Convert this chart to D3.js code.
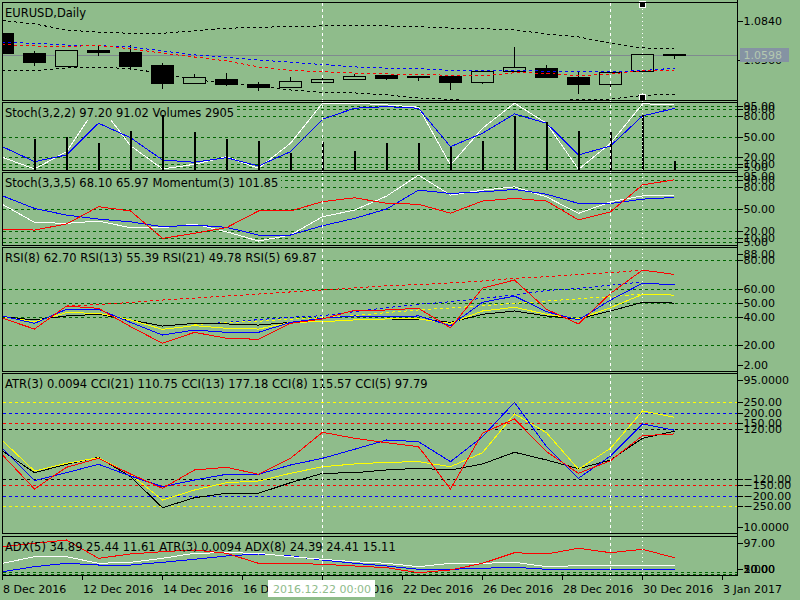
<!DOCTYPE html>
<html lang="en">
<head>
<meta charset="UTF-8">
<title>EURUSD,Daily</title>
<script src="https://cdn.jsdelivr.net/npm/d3@7"></script>
<style>
    body{ margin:0; background:#8fbc8b; }
    svg{ display:block; font-family:"DejaVu Sans", Verdana, sans-serif; font-size:11px; }
    .frame{ fill:none; stroke:#000; }
    .level{ stroke:#006400; stroke-dasharray:3,3; }
    .axisText{ fill:#000; }
    .paneTitle{ font-size:11.5px; }
    .ind{ fill:none; stroke-width:1; }
    .dash{ stroke-dasharray:3,3; }
</style>
</head>
<body>
<script>
// ---------------- data ----------------
// time axis labels, one every 2.5 bars
const tickLabels = ["8 Dec 2016","12 Dec 2016","14 Dec 2016","16 Dec 2016","20 Dec 2016",
                    "22 Dec 2016","26 Dec 2016","28 Dec 2016","30 Dec 2016","3 Jan 2017"];

// EURUSD daily candles
const openP  = [1.0753,1.0612,1.0522,1.0633,1.0619,1.0527,1.0397,1.0428,1.0392,1.0373,1.0409,1.0426,1.0456,1.0447,1.0447,1.0402,1.0482,1.0508,1.0440,1.0390,1.0482,1.0605];
const highP  = [1.0755,1.0626,1.0633,1.0668,1.0668,1.0541,1.0463,1.0472,1.0409,1.0440,1.0432,1.0463,1.0457,1.0449,1.0449,1.0482,1.0654,1.0525,1.0482,1.0477,1.0605,1.0607];
const lowP   = [1.0610,1.0520,1.0515,1.0590,1.0491,1.0357,1.0390,1.0378,1.0343,1.0362,1.0407,1.0419,1.0423,1.0416,1.0350,1.0395,1.0481,1.0437,1.0324,1.0369,1.0481,1.0567];
const closeP = [1.0612,1.0548,1.0633,1.0619,1.0520,1.0400,1.0440,1.0390,1.0373,1.0414,1.0428,1.0449,1.0437,1.0446,1.0402,1.0482,1.0511,1.0444,1.0388,1.0477,1.0605,1.0598];
const lastPrice = 1.0598;
const priceLabels = [1.0840, 1.0560];

// envelope / moving averages on price
const bandUpper = [1.0841,1.0817,1.0774,1.0758,1.0751,1.0751,1.0769,1.0786,1.0793,1.0798,1.0803,1.0803,1.0803,1.0798,1.0788,1.0783,1.0774,1.0746,1.0725,1.0680,1.0647,1.0645];
const bandLower = [1.0484,1.0487,1.0506,1.0511,1.0501,1.0467,1.0421,1.0402,1.0378,1.0350,1.0334,1.0329,1.0315,1.0294,1.0283,1.0272,1.0265,1.0272,1.0283,1.0286,1.0311,1.0320];
const maBlue    = [1.0687,1.0680,1.0668,1.0663,1.0654,1.0626,1.0598,1.0581,1.0562,1.0546,1.0530,1.0513,1.0504,1.0501,1.0488,1.0487,1.0491,1.0482,1.0479,1.0479,1.0487,1.0504];
const maRed     = [1.0672,1.0661,1.0659,1.0663,1.0642,1.0610,1.0583,1.0555,1.0513,1.0488,1.0479,1.0470,1.0463,1.0461,1.0453,1.0449,1.0472,1.0468,1.0449,1.0463,1.0487,1.0491];

// Stoch(3,2,2) + Volumes
const stochA_main   = [19.6,2.5,27.8,98,36.6,2.5,9.4,20.5,3.5,40.1,98.7,98.7,96.2,92.8,8.3,62,98.7,69.4,2,40.1,97.6,97.2];
const stochA_signal = [35.1,13.2,23,69.4,48.3,15.7,12.3,19,6.9,27.8,75.2,91.3,93.7,91.3,35.1,54.8,83,69.4,23,36.2,80.1,91.02];
const volumes       = [9000,9210,9590,8130,11530,16180,11150,9210,8630,5050,8420,5810,7960,8130,6970,8710,15890,13940,11530,11040,16180,2905];
const stochLevels   = [95,90,80,50,20,10,5];

// Stoch(3,3,5) + Momentum(3)
const stochB_main   = [56.5,31.9,30.6,33.7,24.6,24.6,29.6,19.1,6.4,14.6,39.6,48.7,67.8,96.5,69.2,76,80.5,66.8,44.2,60,68.2,68.1];
const stochB_signal = [68.2,51,41.9,36.4,32.7,25.9,28.2,25.1,14.6,14.6,27.3,37.4,50.1,76,71.5,73.7,76.9,70.5,57.8,57.8,63.7,65.97];
const momentum      = [99.42,99.37,99.67,100.52,100.31,98.96,99.21,99.49,100.31,100.31,100.77,100.96,100.69,100.64,100.20,100.80,100.93,100.80,99.87,100.27,101.59,101.85];

// RSI panel
const rsi5  = [39.1,31.5,47.7,46.1,33.2,21.5,29.2,25,24.3,35.5,38.6,44.7,44.9,46.1,32.4,60.2,66,45.4,35.1,56.6,73,69.87];
const rsi8  = [40.7,35.5,45.4,45.4,36.2,27.3,30.8,29.2,29.2,36.2,39.1,40.7,40.2,40.7,33.9,50.3,54.7,43.7,37.9,51.9,63.7,62.7];
const rsi13 = [40.2,36.7,43,42.6,37.9,31.3,33.9,32,31.5,36.2,36.7,37.9,38.6,38.6,35.5,44.2,46.8,41.9,38.6,46.5,55.9,55.39];
const rsi21 = [40.2,37.9,40.7,41.9,37.9,33.6,35.5,35.1,34.3,36.2,36.7,37.9,38.6,38.4,36.2,41.9,44.2,40.7,38.6,44.2,50.3,49.78];
const rsiMaRed    = [null,null,47.7,48.8,50.2,51.9,53.3,54.7,56.1,57.6,59,60.4,62,62.8,63.9,65.3,67.2,68.3,69.9,71.1,73,null];
const rsiMaBlue   = [null,null,null,null,null,null,34.7,36.2,38.1,39.8,40.9,43.7,46.5,48.9,50.7,53.1,55.4,58.6,60.2,62.3,64.6,null];
const rsiMaYellow = [null,null,null,null,null,null,34.7,36,37,38.4,39.5,41,43.1,44.9,46.3,47.9,49.6,51.2,52.8,54.3,56.1,null];
const rsiLevels = [80,60,50,40,20];
const rsiLabels = [88,80,60,50,40,20,2];

// CCI panel
const cci21 = [15.6,-88.7,-48.3,-14.7,-107.9,-257,-208.9,-187.7,-187.7,-136.8,-91.6,-88.7,-75.7,-67.5,-75.7,-46.9,9.4,-27.6,-69.5,-27.6,76.7,110.75];
const cci13 = [65.1,-80.5,-43.5,-16.6,-96.4,-220,-171.9,-136.8,-128.6,-91.6,-59.9,-46.9,-38.7,-35.8,-59.9,7.5,193.5,103.6,-72.4,28.6,207.9,177.18];
const cci8  = [28.6,-127.2,-88.7,-48.3,-104.6,-156,-123.8,-96.4,-96.4,-51.7,-19.5,23.8,68.5,60.3,-35.8,84.4,249.8,36.3,-115.6,-8.4,145.4,115.57];
const cci5  = [-3.6,-167.1,-62.7,-19.5,-95,-163.7,-75.7,-62.7,-96.4,-19.5,105.5,76.7,55.5,36.3,-167.1,100.7,169.5,12.3,-91.6,-31,89.2,97.79];
const cciLevels = [250,200,150,120,-120,-150,-200,-250];
const atrLabels = [95,10];

// ADX panel
const adxRed   = [79,88.1,97,47.7,59.3,65.5,70.1,61.2,34.2,34.2,31.5,27,22.4,8.9,16.2,34.2,62.8,59.3,74.7,62.8,72,49.3];
const adxWhite = [34.2,52,52,34.2,36.9,47.7,61.2,62.8,61.2,52,45,38.5,34.2,25.1,34.2,34.2,36.9,25.1,27.8,27.8,27.8,29.6];
const adxBlue  = [11.6,25.1,34.2,29.6,29.6,36.9,45,53.9,59.3,53.9,43.1,34.2,27,18.1,18.1,20.8,23.5,18.1,16.2,16.2,16.2,16.2];
const adxLevels = [10,5];
const adxLabels = [97,20,10,5];

// marked bars
const crossBar = 10, crossLabel = "2016.12.22 00:00";
const dashedBar = 19, dottedBar = 20;

// ---------------- drawing ----------------
const width = 800, height = 600;
const bg = "#8fbc8b";
const L = 2.5, R = 737.5;

const svg = d3.select("body").append("svg")
    .attr("width", width).attr("height", height)
    .attr("shape-rendering", "crispEdges");
svg.append("rect").attr("width", width).attr("height", height).attr("fill", bg);

// bar index -> x, 32 px per bar
const x = d3.scaleLinear().domain([0, 22.5]).range([2, 722]);
const idx = d3.range(openP.length);

function pane(id, top, bottom){
    svg.append("clipPath").attr("id", "clip-" + id)
        .append("rect").attr("x", L + 0.5).attr("y", top + 0.5)
        .attr("width", R - L - 1).attr("height", bottom - top - 1);
    const g = svg.append("g").attr("clip-path", `url(#clip-${id})`);
    return {id, g, top, bottom};
}

const pPrice = pane("price", 2.5, 100.5);
const pStA   = pane("stA", 102.5, 170.5);
const pStB   = pane("stB", 172.5, 245.5);
const pRsi   = pane("rsi", 247.5, 371.5);
const pCci   = pane("cci", 373.5, 533.5);
const pAdx   = pane("adx", 536.5, 575.5);

const yPrice = d3.scaleLinear().domain([1.0279, 1.0972]).range([100, 2]);
const yStA   = d3.scaleLinear().domain([0, 100]).range([170.7, 102.3]);
const yVol   = d3.scaleLinear().domain([0, 19740]).range([170.7, 102.3]);
const yStB   = d3.scaleLinear().domain([0, 100]).range([245.7, 172.6]);
const yMom   = d3.scaleLinear().domain([98.6, 102.2]).range([245.7, 172.6]);
const yRsi   = d3.scaleLinear().domain([2, 88.5]).range([371, 248]);
const yCci   = d3.scaleLinear().domain([-380, 390]).range([533.3, 373.1]);
const yAtr   = d3.scaleLinear().domain([10, 95]).range([526.5, 380]);
const yAdx   = d3.scaleLinear().domain([0, 97]).range([576, 540]);

function series(p, values, yScale, color, dashed){
    const line = d3.line()
        .defined(d => d != null)
        .x((d, i) => Math.round(x(i)) + 0.5)
        .y(d => yScale(d));
    p.g.append("path")
        .datum(values)
        .attr("class", "ind" + (dashed ? " dash" : ""))
        .attr("stroke", color)
        .attr("d", line);
}

function levels(p, vals, yScale, colorFn){
    p.g.selectAll(null).data(vals).enter().append("line")
        .attr("class", colorFn ? null : "level")
        .attr("x1", L).attr("x2", R)
        .attr("y1", d => Math.round(yScale(d)) + 0.5)
        .attr("y2", d => Math.round(yScale(d)) + 0.5)
        .attr("stroke", colorFn ? colorFn : null)
        .attr("stroke-dasharray", colorFn ? "3,3" : null);
}

function axisLabels(vals, yScale, fmt, p){
    const g = svg.append("g");
    const pos = d => {
        let y = yScale(d);
        if (p) y = Math.max(p.top + 6, Math.min(p.bottom - 7, y));
        return Math.round(y) + 0.5;
    };
    g.selectAll("line").data(vals).enter().append("line")
        .attr("x1", R).attr("x2", R + 5)
        .attr("y1", pos).attr("y2", pos).attr("stroke", "#000");
    g.selectAll("text").data(vals).enter().append("text")
        .attr("class", "axisText")
        .attr("x", R + 6).attr("y", pos).attr("dy", "0.35em")
        .text(fmt);
}

function title(p, text, withBg){
    const g = p.g.append("g");
    const r = g.append("rect").attr("fill", bg);
    const t = g.append("text").attr("class", "paneTitle").attr("x", 5).attr("y", p.top + 14.5).text(text);
    if (withBg){
        const w = t.node().getComputedTextLength();
        r.attr("x", L + 0.5).attr("y", p.top + 0.5).attr("width", w + 5).attr("height", 17);
    } else r.remove();
}

/* ---------- price pane ---------- */
pPrice.g.append("line")
    .attr("x1", L).attr("x2", R)
    .attr("y1", Math.round(yPrice(lastPrice)) + 0.5).attr("y2", Math.round(yPrice(lastPrice)) + 0.5)
    .attr("stroke", "#7f8a8f");
series(pPrice, bandUpper, yPrice, "#000", true);
series(pPrice, bandLower, yPrice, "#000", true);

const candles = pPrice.g.append("g").selectAll("g").data(idx).enter().append("g");
candles.append("line")
    .attr("x1", i => Math.round(x(i)) + 0.5).attr("x2", i => Math.round(x(i)) + 0.5)
    .attr("y1", i => yPrice(highP[i])).attr("y2", i => yPrice(lowP[i]))
    .attr("stroke", "#000");
candles.append("rect")
    .attr("x", i => Math.round(x(i)) - 10.5).attr("width", 22)
    .attr("y", i => Math.round(yPrice(Math.max(openP[i], closeP[i]))) + 0.5)
    .attr("height", i => Math.max(1, Math.round(yPrice(Math.min(openP[i], closeP[i])) - yPrice(Math.max(openP[i], closeP[i])))))
    .attr("fill", i => closeP[i] >= openP[i] ? bg : "#000")
    .attr("stroke", "#000");

series(pPrice, maBlue, yPrice, "#0000ff", true);
series(pPrice, maRed, yPrice, "#ff0000", true);
title(pPrice, "EURUSD,Daily", false);

/* ---------- Stoch(3,2,2) + Volumes ---------- */
levels(pStA, stochLevels, yStA);
series(pStA, stochA_main, yStA, "#ffffff");
series(pStA, stochA_signal, yStA, "#0000ff");
title(pStA, `Stoch(3,2,2) ${stochA_main[21].toFixed(2)} ${stochA_signal[21].toFixed(2)} Volumes ${volumes[21]}`, true);
pStA.g.append("g").selectAll("line").data(idx.slice(1)).enter().append("line")
    .attr("x1", i => Math.round(x(i)) + 0.5).attr("x2", i => Math.round(x(i)) + 0.5)
    .attr("y1", yVol(0)).attr("y2", i => yVol(volumes[i]))
    .attr("stroke", "#000").attr("stroke-width", 2);

/* ---------- Stoch(3,3,5) + Momentum ---------- */
levels(pStB, stochLevels, yStB);
series(pStB, stochB_main, yStB, "#ffffff");
series(pStB, stochB_signal, yStB, "#0000ff");
title(pStB, `Stoch(3,3,5) ${stochB_main[21].toFixed(2)} ${stochB_signal[21].toFixed(2)} Momentum(3) ${momentum[21].toFixed(2)}`, true);
series(pStB, momentum, yMom, "#ff0000");

/* ---------- RSI ---------- */
levels(pRsi, rsiLevels, yRsi);
series(pRsi, rsiMaRed, yRsi, "#ff0000", true);
series(pRsi, rsiMaBlue, yRsi, "#0000ff", true);
series(pRsi, rsiMaYellow, yRsi, "#ffff00", true);
series(pRsi, rsi21, yRsi, "#000000");
series(pRsi, rsi13, yRsi, "#ffff00");
series(pRsi, rsi8, yRsi, "#0000ff");
series(pRsi, rsi5, yRsi, "#ff0000");
title(pRsi, `RSI(8) ${rsi8[21].toFixed(2)} RSI(13) ${rsi13[21].toFixed(2)} RSI(21) ${rsi21[21].toFixed(2)} RSI(5) ${rsi5[21].toFixed(2)}`, true);

/* ---------- ATR / CCI ---------- */
const cciColor = {250:"#ffff00", 200:"#0000ff", 150:"#ff0000", 120:"#000000"};
levels(pCci, cciLevels, yCci, d => cciColor[Math.abs(d)]);
series(pCci, cci21, yCci, "#000000");
series(pCci, cci13, yCci, "#ffff00");
series(pCci, cci8, yCci, "#0000ff");
series(pCci, cci5, yCci, "#ff0000");
title(pCci, `ATR(3) 0.0094 CCI(21) ${cci21[21].toFixed(2)} CCI(13) ${cci13[21].toFixed(2)} CCI(8) ${cci8[21].toFixed(2)} CCI(5) ${cci5[21].toFixed(2)}`, false);

/* ---------- ADX ---------- */
levels(pAdx, adxLevels, yAdx);
series(pAdx, adxBlue, yAdx, "#0000ff");
series(pAdx, adxWhite, yAdx, "#ffffff");
series(pAdx, adxRed, yAdx, "#ff0000");
title(pAdx, "ADX(5) 34.89 25.44 11.61 ATR(3) 0.0094 ADX(8) 24.39 24.41 15.11", false);

/* ---------- vertical markers ---------- */
const vx = b => Math.round(x(b)) + 0.5;
svg.append("line").attr("x1", vx(crossBar)).attr("x2", vx(crossBar)).attr("y1", 3).attr("y2", 580)
    .attr("stroke", "#fff").attr("stroke-dasharray", "3,3");
svg.append("line").attr("x1", vx(dashedBar)).attr("x2", vx(dashedBar)).attr("y1", 3).attr("y2", 580)
    .attr("stroke", "#fff").attr("stroke-dasharray", "3,3");
svg.append("line").attr("x1", vx(dottedBar)).attr("x2", vx(dottedBar)).attr("y1", 5).attr("y2", 580)
    .attr("stroke", "#fff").attr("stroke-dasharray", "1,3");
[4, 97].forEach(yy => {
    svg.append("rect").attr("x", vx(dottedBar) - 3).attr("y", yy - 3).attr("width", 6).attr("height", 6)
        .attr("fill", "#000").attr("stroke", "#fff");
});

/* ---------- frames ---------- */
[pPrice, pStA, pStB, pRsi, pCci, pAdx].forEach(p => {
    svg.append("rect").attr("class", "frame")
        .attr("x", L).attr("y", p.top).attr("width", R - L).attr("height", p.bottom - p.top);
});
svg.append("line").attr("x1", R).attr("x2", R).attr("y1", 0).attr("y2", 576).attr("stroke", "#000");

/* ---------- right axis ---------- */
const f2 = d3.format(".2f");
axisLabels(priceLabels, yPrice, d3.format(".4f"));
axisLabels(stochLevels, yStA, f2);
axisLabels(stochLevels, yStB, f2);
axisLabels(rsiLabels, yRsi, f2, pRsi);
axisLabels(cciLevels, yCci, f2);
axisLabels(atrLabels, yAtr, d3.format(".4f"));
axisLabels(adxLabels, yAdx, f2, pAdx);

// current price box
const py = Math.round(yPrice(lastPrice));
svg.append("rect").attr("x", R + 2).attr("y", py - 7).attr("width", 49).attr("height", 14).attr("fill", "#8593a3");
svg.append("text").attr("x", R + 6).attr("y", py).attr("dy", "0.35em").attr("fill", "#b4c8b0")
    .text(d3.format(".4f")(lastPrice));

/* ---------- time axis ---------- */
const ticks = d3.range(tickLabels.length).map(k => k * 2.5);
const tg = svg.append("g");
tg.selectAll("line").data(ticks).enter().append("line")
    .attr("x1", d => Math.round(x(d)) + 0.5).attr("x2", d => Math.round(x(d)) + 0.5)
    .attr("y1", 575.5).attr("y2", 580).attr("stroke", "#000");
tg.selectAll("text").data(ticks).enter().append("text")
    .attr("x", d => Math.round(x(d)) + 1).attr("y", 593)
    .text((d, k) => tickLabels[k]);

// crosshair time box
const cx = x(crossBar);
svg.append("rect").attr("x", cx - 54).attr("y", 580).attr("width", 107).attr("height", 17).attr("fill", "#fff");
svg.append("text").attr("x", cx).attr("y", 593).attr("text-anchor", "middle").attr("fill", bg).text(crossLabel);
</script>
</body>
</html>
